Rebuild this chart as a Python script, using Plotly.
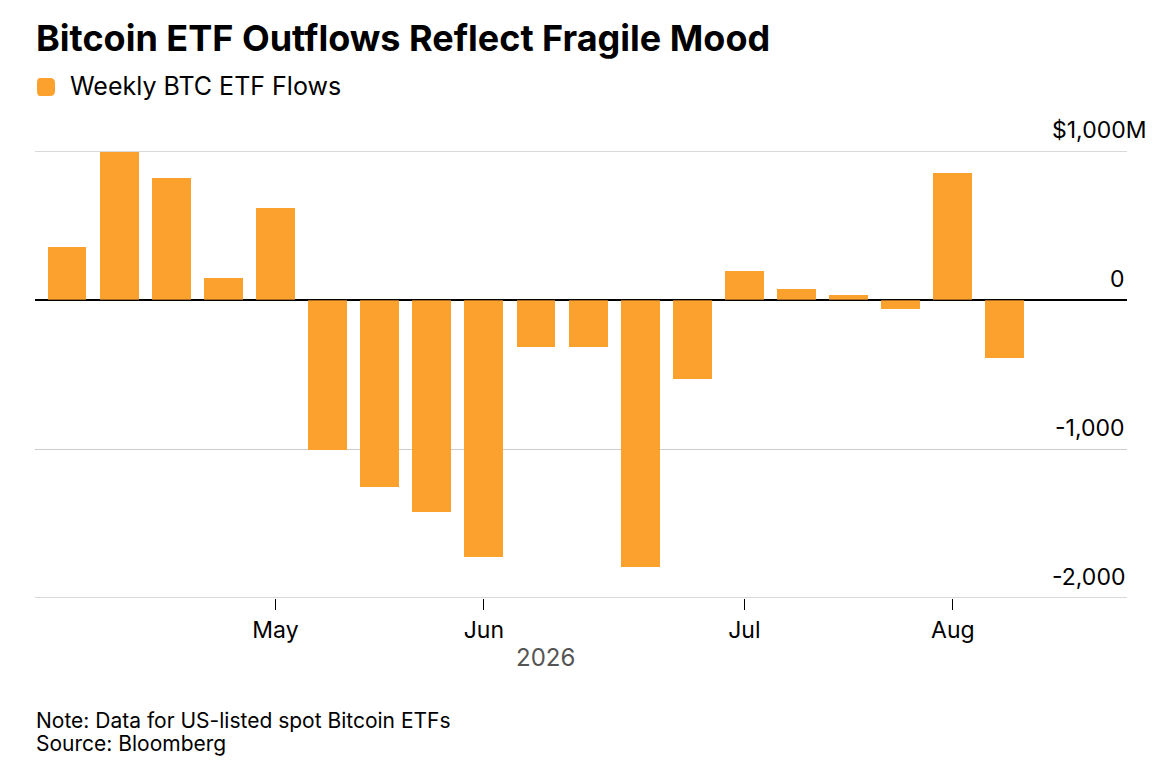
import plotly.graph_objects as go

# ---- data ----
week_dates = ["2026-04-06", "2026-04-13", "2026-04-20", "2026-04-27",
              "2026-05-04", "2026-05-11", "2026-05-18", "2026-05-25",
              "2026-06-01", "2026-06-08", "2026-06-15", "2026-06-22", "2026-06-29",
              "2026-07-06", "2026-07-13", "2026-07-20", "2026-07-27",
              "2026-08-03", "2026-08-10"]
weekly_flows = [358, 995, 820, 150, 619, -1005, -1257, -1421, -1723, -318,
                -316, -1795, -527, 196, 74, 34, -63, 853, -391]
series_name = "Weekly BTC ETF Flows"
month_tick_dates = ["2026-05-04", "2026-06-01", "2026-07-06", "2026-08-03"]
month_tick_labels = ["May", "Jun", "Jul", "Aug"]
y_tick_values = [1000, 0, -1000, -2000]
y_tick_labels = ["$1,000M", "0", "-1,000", "-2,000"]
year_label = "2026"
title_text = "Bitcoin ETF Outflows Reflect Fragile Mood"
note_text = "Note: Data for US-listed spot Bitcoin ETFs"
source_text = "Source: Bloomberg"

# ---- layout geometry (screen pixels; page body has an 8px margin) ----
OFF = 8
W, H = 1164 - 2 * OFF, 773 - 2 * OFF
PLOT_L, PLOT_R, PLOT_T, PLOT_B = 35, 1127, 151, 598
ML = PLOT_L - OFF
MR = OFF + W - PLOT_R
MT = PLOT_T - OFF
MB = OFF + H - PLOT_B
PW, PH = PLOT_R - PLOT_L, PLOT_B - PLOT_T
FONT = "Inter"
ORANGE = "#FCA12E"
GRID = "#cccccc"


def px(x):
    return (x - PLOT_L) / PW


def py(y):
    return (PLOT_B - y) / PH


fig = go.Figure()
fig.add_trace(go.Bar(
    x=week_dates, y=weekly_flows, name=series_name,
    marker=dict(color=ORANGE, line=dict(width=0)),
    width=5.22 * 86400000, showlegend=False,
))

annotations = []
annotations.append(dict(text=f"<b>{title_text}</b>", x=px(33.5), y=py(38), xref="paper", yref="paper",
                        xanchor="left", yanchor="middle", showarrow=False,
                        font=dict(family=FONT, size=36, color="#000")))
annotations.append(dict(text=series_name, x=px(68), y=py(86), xref="paper", yref="paper",
                        xanchor="left", yanchor="middle", showarrow=False,
                        font=dict(family=FONT, size=25, color="#000")))
for v, lab in zip(y_tick_values, y_tick_labels):
    annotations.append(dict(text=lab, x=1, y=v, xref="paper", yref="y",
                            xanchor="right", yanchor="middle", showarrow=False,
                            xshift=21 if lab.endswith("M") else 0, yshift=21,
                            font=dict(family=FONT, size=23, color="#000")))
annotations.append(dict(text=year_label, x=px(545), y=py(657), xref="paper", yref="paper",
                        xanchor="center", yanchor="middle", showarrow=False,
                        font=dict(family=FONT, size=24, color="#555")))
annotations.append(dict(text=note_text, x=px(33.5), y=py(720), xref="paper", yref="paper",
                        xanchor="left", yanchor="middle", showarrow=False,
                        font=dict(family=FONT, size=21, color="#000")))
annotations.append(dict(text=source_text, x=px(33.5), y=py(743), xref="paper", yref="paper",
                        xanchor="left", yanchor="middle", showarrow=False,
                        font=dict(family=FONT, size=21, color="#000")))

shapes = [
    dict(type="path", xref="paper", yref="paper", xsizemode="pixel", ysizemode="pixel",
         xanchor=0, yanchor=1,
         path="M 5,55 L 15,55 Q 20,55 20,60 L 20,68 Q 20,73 15,73 "
              "L 5,73 Q 2,73 2,68 L 2,60 Q 2,55 5,55 Z",
         fillcolor=ORANGE, line=dict(width=0)),
]
# gridlines at the range edges (plotly hides those)
for v in (y_tick_values[0], y_tick_values[-1]):
    shapes.append(dict(type="line", xref="paper", yref="y", x0=0, x1=1, y0=v, y1=v,
                       line=dict(color=GRID, width=1.4), layer="below"))
# zero line drawn over bars
shapes.append(dict(type="line", xref="paper", yref="y", x0=0, x1=1, y0=0, y1=0,
                   line=dict(color="rgba(0,0,0,0.45)", width=1.6), layer="above"))

fig.update_layout(
    width=W, height=H,
    margin=dict(l=ML, r=MR, t=MT, b=MB, pad=0),
    paper_bgcolor="white", plot_bgcolor="white",
    font=dict(family=FONT, color="#000"),
    bargap=0,
    annotations=annotations,
    shapes=shapes,
    xaxis=dict(
        type="date",
        range=["2026-04-01 16:48", "2026-08-26 09:36"],
        tickmode="array", tickvals=month_tick_dates, ticktext=month_tick_labels,
        ticks="outside", ticklen=11, tickwidth=1.3, tickcolor="#000",
        tickfont=dict(family=FONT, size=23, color="#000"),
        showgrid=False, zeroline=False, showline=False,
    ),
    yaxis=dict(
        range=[-2000, 1000],
        tickmode="array", tickvals=y_tick_values,
        showticklabels=False, ticks="",
        showgrid=True, gridcolor=GRID, gridwidth=1.4,
        zeroline=True, zerolinecolor="#000", zerolinewidth=1.6,
        showline=False,
    ),
)

fig.write_html("out.html")
